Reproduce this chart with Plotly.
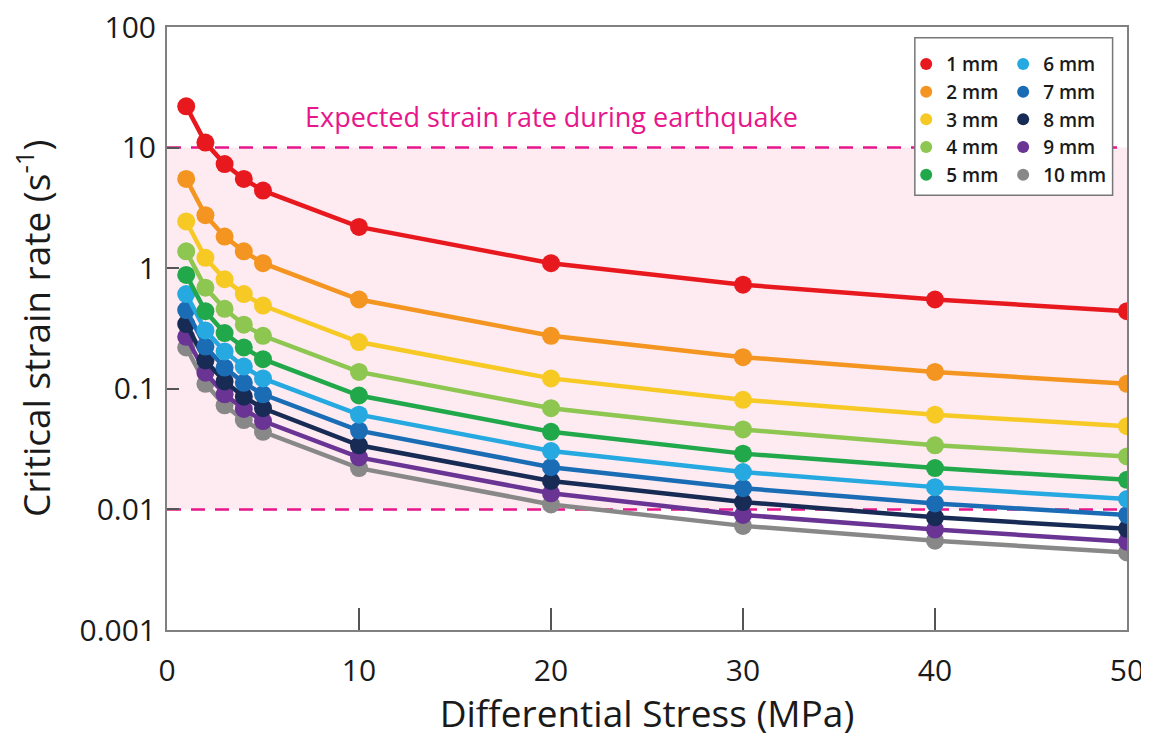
import plotly.graph_objects as go

stress = [1, 2, 3, 4, 5, 10, 20, 30, 40, 50]
labels = ["1 mm", "2 mm", "3 mm", "4 mm", "5 mm", "6 mm", "7 mm", "8 mm", "9 mm", "10 mm"]
rate_1mm = [22, 11, 7.3, 5.5, 4.4, 2.2, 1.1, 0.73, 0.55, 0.44]
rate_2mm = [5.5, 2.75, 1.83, 1.38, 1.1, 0.55, 0.275, 0.183, 0.138, 0.11]
rate_3mm = [2.44, 1.22, 0.81, 0.61, 0.49, 0.244, 0.122, 0.081, 0.061, 0.049]
rate_4mm = [1.38, 0.69, 0.46, 0.34, 0.275, 0.138, 0.069, 0.046, 0.034, 0.0275]
rate_5mm = [0.88, 0.44, 0.29, 0.22, 0.176, 0.088, 0.044, 0.029, 0.022, 0.0176]
rate_6mm = [0.61, 0.305, 0.204, 0.153, 0.122, 0.061, 0.0305, 0.0204, 0.0153, 0.0122]
rate_7mm = [0.45, 0.224, 0.15, 0.112, 0.09, 0.045, 0.0224, 0.015, 0.0112, 0.009]
rate_8mm = [0.344, 0.172, 0.115, 0.086, 0.069, 0.034, 0.0172, 0.0115, 0.0086, 0.0069]
rate_9mm = [0.27, 0.136, 0.09, 0.068, 0.054, 0.027, 0.0136, 0.009, 0.0068, 0.0054]
rate_10mm = [0.22, 0.11, 0.073, 0.055, 0.044, 0.022, 0.011, 0.0073, 0.0055, 0.0044]
series = [rate_1mm, rate_2mm, rate_3mm, rate_4mm, rate_5mm,
          rate_6mm, rate_7mm, rate_8mm, rate_9mm, rate_10mm]
colors = ["#e8191e", "#f39520", "#f7c925", "#8dc651", "#21a84a",
          "#26a8e0", "#1a6db5", "#172b55", "#6a3494", "#888888"]
yticks = [0.001, 0.01, 0.1, 1, 10, 100]
yticktext = ["0.001", "0.01", "0.1", "1", "10", "100"]
xticks = [0, 10, 20, 30, 40, 50]
band_low, band_high = 0.01, 10
band_label = "Expected strain rate during earthquake"
x_title = "Differential Stress (MPa)"
y_title = "Critical strain rate (s<sup>-1</sup>)"

FONT = "Open Sans"
pink = "#e8168b"
ink = "#1a1a1a"

fig = go.Figure()

# data traces (draw last series first so that the top series stays on top)
for i in reversed(range(len(series))):
    fig.add_trace(go.Scatter(
        x=stress, y=series[i], mode="lines+markers", name=labels[i],
        line=dict(color=colors[i], width=4.5),
        marker=dict(color=colors[i], size=18),
        showlegend=False, hoverinfo="x+y+name"))

# legend entries (markers only), split into two columns
for i in range(len(series)):
    fig.add_trace(go.Scatter(
        x=[None], y=[None], mode="markers", name=labels[i],
        marker=dict(color=colors[i], size=13),
        legend="legend" if i < 5 else "legend2",
        legendgroup=labels[i], showlegend=True))

# band and dashed limits
fig.add_hrect(y0=band_low, y1=band_high, fillcolor="#fdebf1", line_width=0, layer="below")
for v in (band_low, band_high):
    fig.add_hline(y=v, line=dict(color=pink, width=2.5, dash="14px,10px"), layer="below")

fig.add_annotation(x=20, y=1.262, xref="x", yref="y", text=band_label,
                   showarrow=False, font=dict(family=FONT, size=27, color=pink))

# y-axis title placed as a rotated annotation (axis titles are clamped by plotly)
fig.add_annotation(x=-0.139, y=0.50, xref="paper", yref="paper", text=y_title,
                   textangle=-90, showarrow=False, xanchor="center", yanchor="middle",
                   font=dict(family=FONT, size=37, color=ink))

# legend box
fig.add_shape(type="rect", xref="paper", yref="paper",
              x0=0.779, x1=0.985, y0=0.721, y1=0.982,
              line=dict(color="#777777", width=1.5), fillcolor="white", layer="below")

legend_common = dict(font=dict(family=FONT, size=19, color=ink, weight=600),
                     bgcolor="rgba(0,0,0,0)", borderwidth=0,
                     traceorder="grouped", tracegroupgap=0,
                     itemsizing="constant", xanchor="left", yanchor="top",
                     itemwidth=30)

# the page adds an 8px body margin, so the figure is offset to match the window
fig.update_layout(
    width=1141, height=730,
    margin=dict(l=159, r=22, t=19, b=108),
    paper_bgcolor="white", plot_bgcolor="white",
    font=dict(family=FONT, color=ink),
    legend=dict(x=0.770, y=0.970, **legend_common),
    legend2=dict(x=0.871, y=0.970, **legend_common),
    xaxis=dict(range=[0, 50], tickvals=xticks, ticks="inside", ticklen=22,
               tickcolor="#555555", tickwidth=2, showline=True, linecolor="#808080",
               linewidth=2, mirror=True, showgrid=False, zeroline=False,
               automargin=False, ticklabeloverflow="allow",
               tickfont=dict(family=FONT, size=30, color=ink),
               ticklabelstandoff=13,
               title=dict(text=x_title,
                          font=dict(family=FONT, size=37, color=ink), standoff=16)),
    yaxis=dict(type="log", range=[-3, 2], tickvals=yticks, ticktext=yticktext,
               ticks="inside", ticklen=12, tickcolor="#555555", tickwidth=2,
               showline=True, linecolor="#808080", linewidth=2, mirror=True,
               showgrid=False, zeroline=False, automargin=False,
               ticklabeloverflow="allow",
               tickfont=dict(family=FONT, size=30, color=ink),
               ticklabelstandoff=3),
)

fig.write_html("out.html")
